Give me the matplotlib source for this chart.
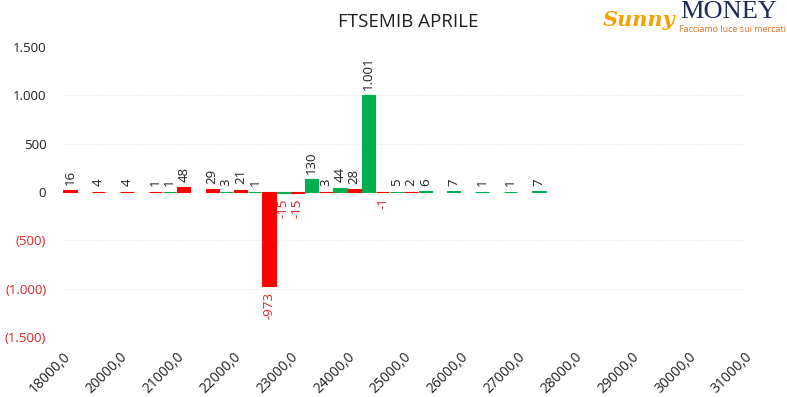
import matplotlib.pyplot as plt
import numpy as np

# Data ###############################################################
strikes = [18000, 19000, 20000, 20500, 21000, 21500, 22000, 22500, 23000,
           23500, 24000, 24500, 25000, 25500, 26000, 26500, 27000, 27500,
           28000, 28500, 29000, 29500, 30000, 30500, 31000]
nan = np.nan
# Calls (green) and puts (red) open interest change
calls = [nan, nan, nan, nan, 1, nan, 3, 1, -15, 130, 44, 1001, 5, 6, 7, 1,
         1, 7, nan, nan, nan, nan, nan, nan, nan]
puts = [16, 4, 4, 1, 48, 29, 21, -973, -15, 3, 28, -1, 2, nan, nan, nan,
        nan, nan, nan, nan, nan, nan, nan, nan, nan]
yticks = [-1500, -1000, -500, 0, 500, 1000, 1500]

green = '#00B050'
red = '#FF0000'
neg_red = '#E02020'
dark = '#202020'

plt.rcParams['font.family'] = ['Open Sans', 'DejaVu Sans']

fig = plt.figure(figsize=(7.87, 3.97), dpi=100)
ax = fig.add_axes([63/787, 1-337/397, (745-63)/787, (337-47)/397])

x = np.arange(len(strikes))
w = 0.47
ax.bar(x - 0.25, calls, width=w, color=green, edgecolor=green, lw=0.8)
ax.bar(x + 0.25, puts, width=w, color=red, edgecolor=red, lw=0.8)


def fmt(v):
    s = f'{abs(int(v)):,}'.replace(',', '.')
    return ('-' + s) if v < 0 else s


# Data labels: above positive bars, below negative ones (in red)
for xs, vals in [(x - 0.25, calls), (x + 0.25, puts)]:
    for xi, v in zip(xs, vals):
        if np.isnan(v):
            continue
        if v >= 0:
            ax.annotate(fmt(v), (xi, v), xytext=(0, 4),
                        textcoords='offset points', rotation=90,
                        ha='center', va='bottom', fontsize=9.5, color=dark)
        else:
            ax.annotate(fmt(v), (xi, v), xytext=(0, -4),
                        textcoords='offset points', rotation=90,
                        ha='center', va='top', fontsize=9.5, color=neg_red)

ax.set_xlim(0, 24)
ax.set_ylim(-1500, 1500)
ax.set_yticks(yticks)
ylabels = []
for v in yticks:
    s = f'{abs(v):,}'.replace(',', '.')
    ylabels.append(f'({s})' if v < 0 else s)
ax.set_yticklabels(ylabels, fontsize=9.5)
for lab, v in zip(ax.get_yticklabels(), yticks):
    lab.set_color(neg_red if v < 0 else dark)

for v in [-1000, -500, 500, 1000]:
    ax.axhline(v, color='#D9D9D9', lw=0.6, ls=(0, (1, 2)), zorder=0)

ax.set_xticks(x[::2])
ax.set_xticklabels([f'{s},0' for s in strikes[::2]], rotation=45,
                   ha='right', va='top', rotation_mode='anchor',
                   fontsize=10, color=dark)
ax.tick_params(axis='both', length=0)
ax.tick_params(axis='x', pad=9)
ax.tick_params(axis='y', pad=12)
for sp in ax.spines.values():
    sp.set_visible(False)

fig.text(408/787, 1-22/397, 'FTSEMIB APRILE', ha='center', va='center',
         fontsize=13.5, color=dark)

# Logo
fig.text(603/787, 1-20/397, 'Sunny', ha='left', va='center', fontsize=15,
         color='#F5A000', style='italic', fontweight='bold',
         family='DejaVu Serif')
fig.text(680/787, 1-12/397, 'MONEY', ha='left', va='center', fontsize=19,
         color='#1F2A5A', family='Liberation Serif')
fig.text(679/787, 1-29/397, 'Facciamo luce sui mercati', ha='left',
         va='center', fontsize=6.5, color='#E07020')

fig.savefig('out.png', dpi=100)
